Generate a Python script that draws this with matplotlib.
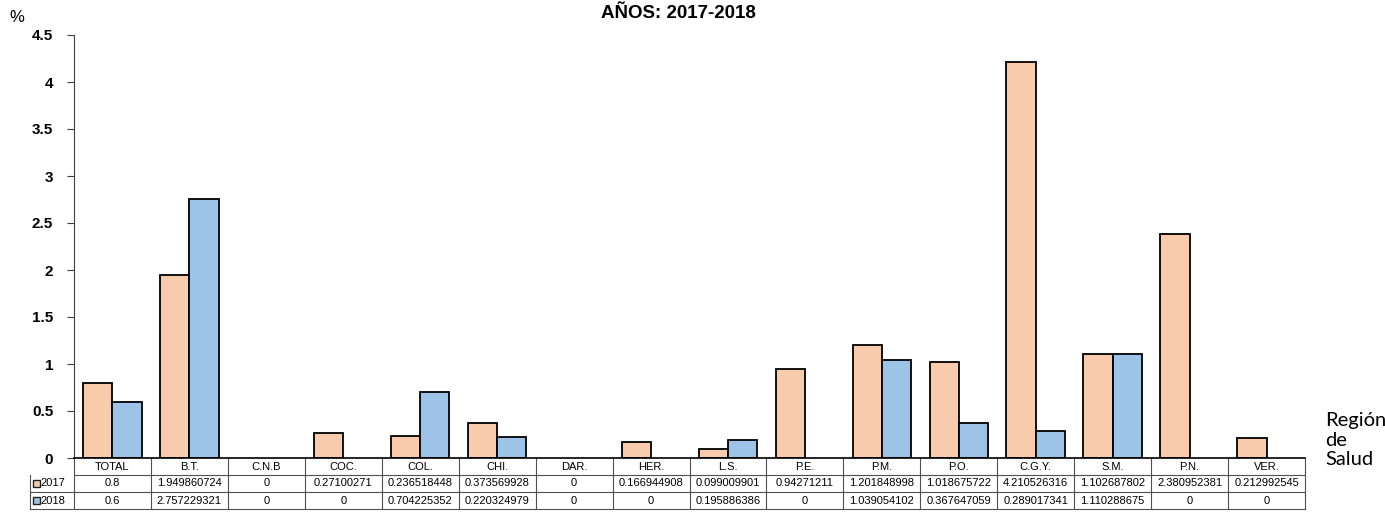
import numpy as np
import matplotlib.pyplot as plt
from matplotlib.patches import Rectangle

regiones = ["TOTAL", "B.T.", "C.N.B", "COC.", "COL.", "CHI.", "DAR.", "HER.",
            "L.S.", "P.E.", "P.M.", "P.O.", "C.G.Y.", "S.M.", "P.N.", "VER."]
v2017 = [0.8, 1.949860724, 0, 0.27100271, 0.236518448, 0.373569928, 0, 0.166944908,
         0.099009901, 0.94271211, 1.201848998, 1.018675722, 4.210526316, 1.102687802,
         2.380952381, 0.212992545]
v2018 = [0.6, 2.757229321, 0, 0, 0.704225352, 0.220324979, 0, 0,
         0.195886386, 0, 1.039054102, 0.367647059, 0.289017341, 1.110288675, 0, 0]
series = ["2017", "2018"]
colores = ["#F8CBAD", "#9DC3E6"]

plt.rcParams["font.family"] = ["Liberation Sans", "DejaVu Sans"]

W, H = 1385, 516
fig = plt.figure(figsize=(W / 100, H / 100), dpi=100)
ax = fig.add_axes([74 / W, 1 - 458 / H, 1231 / W, 423 / H])

n = len(regiones)
x = np.arange(n)
w = 0.38
for off, vals, col in [(-w / 2, v2017, colores[0]), (w / 2, v2018, colores[1])]:
    lw = [1.3 if v > 0 else 0 for v in vals]
    ax.bar(x + off, vals, w, color=col, edgecolor="black", linewidth=lw)

ax.set_xlim(-0.5, n - 0.5)
ax.set_ylim(0, 4.5)
ax.set_yticks(np.arange(0, 4.51, 0.5))
ax.set_yticklabels(["0", "0.5", "1", "1.5", "2", "2.5", "3", "3.5", "4", "4.5"],
                   fontweight="bold", fontsize=11)
ax.set_xticks([])
for s in ["top", "right"]:
    ax.spines[s].set_visible(False)
ax.spines["left"].set_color("#404040")
ax.spines["bottom"].set_linewidth(1.2)
ax.tick_params(axis="y", length=5, color="#404040", pad=10)

# tabla de datos dibujada a mano debajo del eje
rh = 17 / 423            # alto de fila en fracción de eje
lab_w = 44 / 1231        # ancho de la columna de etiquetas
tx = ax.get_xaxis_transform()
lc = "#505050"
kw = dict(clip_on=False, color=lc, linewidth=0.8)

filas = [regiones,
         [("%.10g" % v) for v in v2017],
         [("%.10g" % v) for v in v2018]]
for r, fila in enumerate(filas):
    for i, txt in enumerate(fila):
        ax.text(i, -(r + 0.5) * rh, txt, transform=tx, ha="center",
                va="center", fontsize=8, clip_on=False)

# líneas verticales
for k in range(n + 1):
    ax.plot([k - 0.5, k - 0.5], [0, -3 * rh], transform=tx, **kw)
ax.plot([-lab_w, -lab_w], [-rh, -3 * rh], transform=ax.transAxes, **kw)
# líneas horizontales
ax.plot([0, 1], [-rh, -rh], transform=ax.transAxes, **kw)
for r in (2, 3):
    ax.plot([-lab_w, 1], [-r * rh, -r * rh], transform=ax.transAxes, **kw)

# etiquetas de fila con su clave de color
for i, (s, col) in enumerate(zip(series, colores)):
    yc = -(i + 1.5) * rh
    ax.text(-lab_w + 10 / 1231, yc, s, transform=ax.transAxes, ha="left",
            va="center", fontsize=8, clip_on=False)
    ax.add_patch(Rectangle((-lab_w + 3 / 1231, yc - 3.5 / 423), 7 / 1231, 7 / 423,
                           transform=ax.transAxes, facecolor=col,
                           edgecolor="#222222", linewidth=1, clip_on=False))

fig.text(678 / W, 1 - 13 / H, "AÑOS: 2017-2018", ha="center", va="center",
         fontsize=13.5, fontweight="bold")
fig.text(9 / W, 1 - 18 / H, "%", ha="left", va="center", fontsize=12)
fig.text(1325 / W, 1 - 440 / H, "Región\nde\nSalud", ha="left", va="center",
         fontsize=14.5, family=["Lato", "DejaVu Sans"], linespacing=1.2)

fig.savefig("out.png", dpi=100)
